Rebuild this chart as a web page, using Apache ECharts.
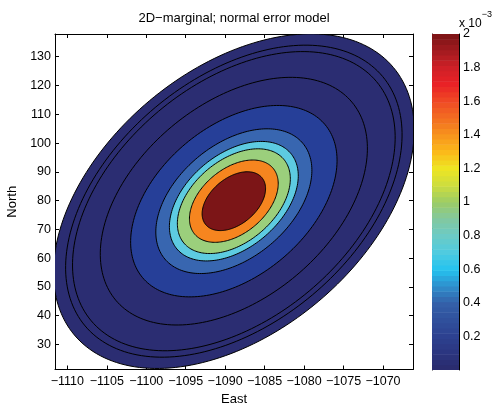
<!DOCTYPE html>
<html><head><meta charset="utf-8">
<script src="https://cdn.jsdelivr.net/npm/echarts@6/dist/echarts.min.js"></script>
<style>html,body{margin:0;padding:0;background:#fff}#c{width:494px;height:405px}</style>
</head><body><div id="c"></div>
<script>
// ---- data ----
const xTicks = [-1110, -1105, -1100, -1095, -1090, -1085, -1080, -1075, -1070];
const yTicks = [30, 40, 50, 60, 70, 80, 90, 100, 110, 120, 130];
const cbTicks = [0.2, 0.4, 0.6, 0.8, 1, 1.2, 1.4, 1.6, 1.8, 2];
const xRange = [-1111.56, -1066.2];
const yRange = [21.3, 137.9];
const cbRange = [0, 2];               // x 10^-3
const peakCenter = [-1088.9, 79.8];   // East, North
// contour levels (x 10^-3), outermost first
const contourLevels = [0.02, 0.04, 0.05, 0.1, 0.22, 0.4, 0.7, 0.95, 1.45, 1.95];
// semi-axes of each contour (East units, screen-isotropic frame)
const contourSemiMajor = [26.38, 24.6, 23.59, 19.53, 15.09, 11.41, 9.42, 8.26, 6.49, 4.64];
const contourSemiMinor = [16.62, 15.5, 14.86, 12.30, 9.51, 7.19, 5.94, 5.20, 4.09, 2.92];
const axisTiltDeg = 40;
const northPerEast = 2.742;

// ---- styles ----
const contourFill = ['#2b2d72', '#2b2d72', '#2b2d72', '#2b2d72', '#263f98', '#3866b0', '#5dcbe1', '#9bcf7c', '#f6851f', '#7c1517'];
const cmapStops = [
  [0.0, '#2a2a6c'], [0.1, '#2b357f'], [0.2, '#2d4190'], [0.3, '#30509c'], [0.4, '#3461a9'],
  [0.5, '#2f8fcd'], [0.6, '#25c3ef'], [0.7, '#4fcbe0'], [0.8, '#6ccbc5'], [0.9, '#82c8a0'],
  [1.0, '#9ccc65'], [1.1, '#cddd3f'], [1.2, '#eee522'], [1.3, '#fbb91a'], [1.4, '#f7941d'],
  [1.5, '#f26d21'], [1.6, '#ef4a25'], [1.7, '#ea2226'], [1.8, '#cf2027'], [1.9, '#a31b1f'], [2.0, '#7a1416']
];
const FONT = '"Liberation Sans", Arial, Helvetica, sans-serif';

function hex2rgb(h){return [parseInt(h.slice(1,3),16),parseInt(h.slice(3,5),16),parseInt(h.slice(5,7),16)];}
function cmap(v){
  for (let i=0;i<cmapStops.length-1;i++){
    const [v0,c0]=cmapStops[i],[v1,c1]=cmapStops[i+1];
    if (v<=v1){const t=(v-v0)/(v1-v0);const a=hex2rgb(c0),b=hex2rgb(c1);
      return 'rgb('+a.map((x,k)=>Math.round(x+(b[k]-x)*t)).join(',')+')';}
  }
  return cmapStops[cmapStops.length-1][1];
}
const NB = 64;
const cbBands = Array.from({length: NB}, (_, i) => [0, cbRange[0] + (cbRange[1]-cbRange[0]) * i / NB]);

function renderContour(params, api){
  const i = params.dataIndex;
  const a = contourSemiMajor[i], b = contourSemiMinor[i];
  const th = axisTiltDeg * Math.PI / 180;
  const pts = [];
  const N = 200;
  for (let k = 0; k < N; k++){
    const t = 2 * Math.PI * k / N;
    const p = a * Math.cos(t), q = b * Math.sin(t);
    const u = p * Math.cos(th) - q * Math.sin(th);
    const w = p * Math.sin(th) + q * Math.cos(th);
    pts.push(api.coord([peakCenter[0] + u, peakCenter[1] + w * northPerEast]));
  }
  return {type: 'polygon', shape: {points: pts},
    style: {fill: contourFill[i], stroke: '#000', lineWidth: 1}};
}
function renderBand(params, api){
  const i = params.dataIndex;
  const step = (cbRange[1]-cbRange[0]) / NB;
  const v0 = cbBands[i][1], v1 = v0 + step;
  const p0 = api.coord([0, v1]), p1 = api.coord([1, v0]);
  return {type: 'rect', shape: {x: p0[0], y: p0[1], width: p1[0]-p0[0], height: p1[1]-p0[1] + 0.5},
    style: {fill: cmap(v0 + step/2)}};
}

const tickStyle = {show: true, inside: true, length: 4, lineStyle: {color: '#000', width: 1}};
const lineStyle = {show: true, onZero: false, lineStyle: {color: '#000', width: 1}};
const labelStyle = {color: '#000', fontSize: 12.5, fontFamily: FONT};
const fmtMinus = v => (v < 0 ? '\u2212' + Math.abs(v) : String(v));

const chart = echarts.init(document.getElementById('c'), null, {renderer: 'canvas'});
chart.setOption({
  animation: false,
  backgroundColor: '#fff',
  grid: [
    {left: 55, top: 34, width: 358, height: 335.5, containLabel: false, outerBoundsMode: 'none'},
    {left: 432, top: 34, width: 27, height: 336, containLabel: false, outerBoundsMode: 'none'}
  ],
  xAxis: [
    {type: 'value', gridIndex: 0, min: xRange[0], max: xRange[1], position: 'bottom',
     axisLine: lineStyle, splitLine: {show: false},
     axisTick: Object.assign({customValues: xTicks}, tickStyle),
     axisLabel: Object.assign({customValues: xTicks, margin: 6, formatter: fmtMinus}, labelStyle),
     name: 'East', nameLocation: 'middle', nameGap: 20,
     nameTextStyle: {color: '#000', fontSize: 13, fontFamily: FONT, verticalAlign: 'top'}},
    {type: 'value', gridIndex: 0, min: xRange[0], max: xRange[1], position: 'top',
     axisLine: lineStyle, splitLine: {show: false},
     axisTick: Object.assign({customValues: xTicks}, tickStyle),
     axisLabel: {show: false}},
    {type: 'value', gridIndex: 1, min: 0, max: 1, show: false}
  ],
  yAxis: [
    {type: 'value', gridIndex: 0, min: yRange[0], max: yRange[1], position: 'left',
     axisLine: lineStyle, splitLine: {show: false},
     axisTick: Object.assign({customValues: yTicks}, tickStyle),
     axisLabel: Object.assign({customValues: yTicks, margin: 4}, labelStyle),
     name: 'North', nameLocation: 'middle', nameGap: 33,
     nameTextStyle: {color: '#000', fontSize: 13, fontFamily: FONT}},
    {type: 'value', gridIndex: 0, min: yRange[0], max: yRange[1], position: 'right',
     axisLine: lineStyle, splitLine: {show: false},
     axisTick: Object.assign({customValues: yTicks}, tickStyle),
     axisLabel: {show: false}},
    {type: 'value', gridIndex: 1, min: cbRange[0], max: cbRange[1], position: 'right',
     axisLine: lineStyle, splitLine: {show: false},
     axisTick: Object.assign({customValues: cbTicks}, tickStyle),
     axisLabel: Object.assign({customValues: cbTicks, margin: 4,
       formatter: v => String(Number(v.toFixed(1)))}, labelStyle)},
    {type: 'value', gridIndex: 1, min: cbRange[0], max: cbRange[1], position: 'left',
     axisLine: lineStyle, splitLine: {show: false},
     axisTick: Object.assign({customValues: cbTicks}, tickStyle),
     axisLabel: {show: false}}
  ],
  series: [
    {type: 'custom', name: 'density', xAxisIndex: 0, yAxisIndex: 0, clip: true,
     renderItem: renderContour,
     data: contourLevels.map(lv => [peakCenter[0], peakCenter[1], lv]),
     encode: {x: 0, y: 1}, z: 1},
    {type: 'custom', name: 'colorbar', xAxisIndex: 2, yAxisIndex: 2, clip: true,
     renderItem: renderBand, data: cbBands, encode: {x: 0, y: 1}, z: 1}
  ],
  graphic: [
    {type: 'text', x: 234, y: 18, z: 10,
     style: {text: '2D\u2212marginal; normal error model', fill: '#000', font: '13px ' + FONT,
       textAlign: 'center', textVerticalAlign: 'middle'}},
    {type: 'text', x: 459, y: 10, z: 10,
     style: {text: '{a|x 10}{b|\u22123}', fill: '#000',
       rich: {a: {fontSize: 12, fontFamily: FONT, padding: [8, 0, 0, 0]},
              b: {fontSize: 9, fontFamily: FONT, verticalAlign: 'top'}}}}
  ]
});
</script></body></html>
